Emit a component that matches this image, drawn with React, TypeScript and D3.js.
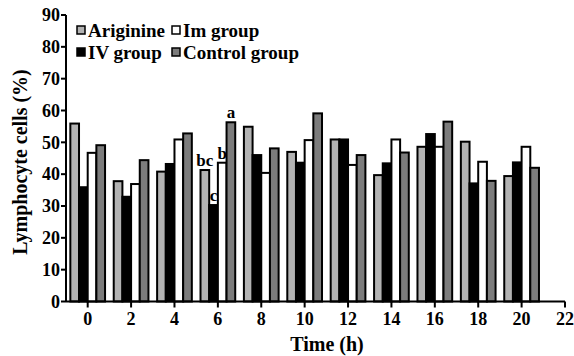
import React from 'react';
import * as d3 from 'd3';

const times = [0, 2, 4, 6, 8, 10, 12, 14, 16, 18, 20];
const ariginine = [55.9, 37.8, 40.8, 41.3, 54.9, 47.0, 50.9, 39.7, 48.6, 50.2, 39.4];
const ivGroup = [35.9, 32.9, 43.2, 30.3, 46.0, 43.6, 50.9, 43.4, 52.6, 37.1, 43.7];
const imGroup = [46.7, 36.9, 50.9, 43.6, 40.4, 50.7, 42.9, 50.9, 48.6, 43.9, 48.6];
const control = [49.1, 44.4, 52.8, 56.3, 48.1, 59.1, 46.0, 46.8, 56.5, 37.9, 42.0];

const xTicks = [0, 2, 4, 6, 8, 10, 12, 14, 16, 18, 20, 22];
const yTicks = [0, 10, 20, 30, 40, 50, 60, 70, 80, 90];

// significance letters at 6 h: [series index, text]
const sigLabels: [number, string][] = [[0, 'bc'], [1, 'c'], [2, 'b'], [3, 'a']];

const series = [
  { name: 'Ariginine', values: ariginine, fill: '#b3b3b3' },
  { name: 'IV group', values: ivGroup, fill: '#000000' },
  { name: 'Im group', values: imGroup, fill: '#ffffff' },
  { name: 'Control group', values: control, fill: '#7c7c7c' },
];

const W = 574;
const H = 356;

export default function App() {
  const x = d3.scaleLinear().domain([-1, 22]).range([66, 565]);
  const y = d3.scaleLinear().domain([0, 90]).range([301.5, 15]);
  const bw = x(0.4) - x(0);

  const barX = (t: number, i: number) => x(t - 0.8 + i * 0.4);

  const legend = [
    { s: series[0], col: 0, row: 0 },
    { s: series[2], col: 1, row: 0 },
    { s: series[1], col: 0, row: 1 },
    { s: series[3], col: 1, row: 1 },
  ];

  const t6 = times.indexOf(6);

  return (
    <svg
      width={W}
      height={H}
      style={{
        position: 'absolute',
        left: 0,
        top: 0,
        fontFamily: "'Times New Roman', 'Liberation Serif', 'DejaVu Serif', serif",
        fontWeight: 'bold',
      }}
    >
      {/* bars */}
      {series.map((s, si) =>
        s.values.map((v, ti) => (
          <rect
            key={`${si}-${ti}`}
            x={barX(times[ti], si)}
            y={y(v)}
            width={bw}
            height={y(0) - y(v)}
            fill={s.fill}
            stroke="#000"
            strokeWidth={2}
          />
        ))
      )}

      {/* significance letters */}
      {sigLabels.map(([si, txt]) => (
        <text
          key={txt}
          x={barX(6, si) + bw / 2}
          y={y(series[si].values[t6]) - 4}
          textAnchor="middle"
          fontSize={17}
        >
          {txt}
        </text>
      ))}

      {/* y axis */}
      <line x1={x(-1)} x2={x(-1)} y1={y(90)} y2={y(0)} stroke="#000" strokeWidth={2} />
      {yTicks.map((t) => (
        <g key={t}>
          <line x1={x(-1) - 5} x2={x(-1)} y1={y(t)} y2={y(t)} stroke="#000" strokeWidth={2} />
          <text x={x(-1) - 6} y={y(t)} dy="0.35em" textAnchor="end" fontSize={18}>
            {t}
          </text>
        </g>
      ))}

      {/* x axis */}
      <line x1={x(-1)} x2={x(22)} y1={y(0)} y2={y(0)} stroke="#000" strokeWidth={2} />
      {xTicks.map((t) => (
        <g key={t}>
          <line x1={x(t)} x2={x(t)} y1={y(0)} y2={y(0) + 6} stroke="#000" strokeWidth={2} />
          <text x={x(t)} y={y(0) + 23} textAnchor="middle" fontSize={18}>
            {t}
          </text>
        </g>
      ))}

      <text x={327} y={351} textAnchor="middle" fontSize={20}>
        Time (h)
      </text>
      <text transform={`translate(27,162) rotate(-90)`} textAnchor="middle" fontSize={20}>
        Lymphocyte cells (%)
      </text>

      {/* legend */}
      {legend.map(({ s, col, row }) => {
        const lx = col === 0 ? 77 : 172;
        const ly = 30 + row * 22;
        return (
          <g key={s.name}>
            <rect x={lx} y={ly - 4} width={8} height={8} fill={s.fill} stroke="#000" strokeWidth={1.5} />
            <text x={lx + 11} y={ly} dy="0.35em" fontSize={19}>
              {s.name}
            </text>
          </g>
        );
      })}
    </svg>
  );
}
